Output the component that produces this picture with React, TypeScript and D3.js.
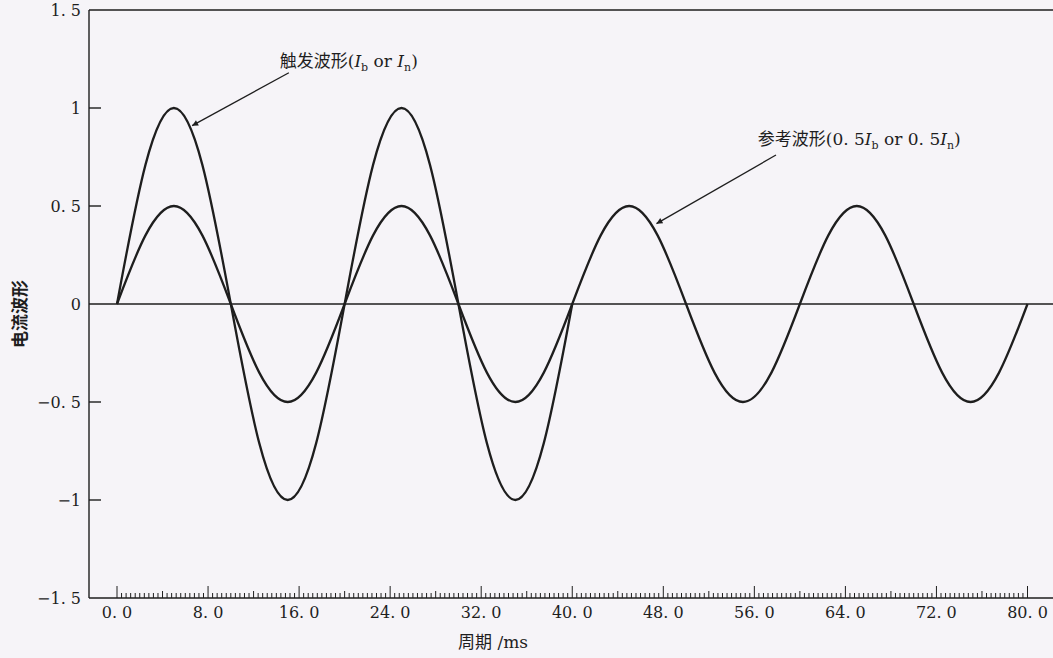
import * as d3 from "d3";
import { useEffect, useRef } from "react";

// time axis (ms), sampled every 2.5 ms
const timeMs = [
  0, 2.5, 5, 7.5, 10, 12.5, 15, 17.5, 20, 22.5, 25, 27.5, 30, 32.5, 35, 37.5, 40,
  42.5, 45, 47.5, 50, 52.5, 55, 57.5, 60, 62.5, 65, 67.5, 70, 72.5, 75, 77.5, 80,
];

// trigger waveform (Ib or In), 0..40 ms
const triggerWave = [
  0, 0.71, 1, 0.71, 0, -0.71, -1, -0.71, 0, 0.71, 1, 0.71, 0, -0.71, -1, -0.71, 0,
];

// reference waveform (0.5Ib or 0.5In), 0..80 ms
const referenceWave = [
  0, 0.35, 0.5, 0.35, 0, -0.35, -0.5, -0.35, 0, 0.35, 0.5, 0.35, 0, -0.35, -0.5, -0.35, 0,
  0.35, 0.5, 0.35, 0, -0.35, -0.5, -0.35, 0, 0.35, 0.5, 0.35, 0, -0.35, -0.5, -0.35, 0,
];

const xTicks = [0, 8, 16, 24, 32, 40, 48, 56, 64, 72, 80];
const xTickLabels = ["0. 0", "8. 0", "16. 0", "24. 0", "32. 0", "40. 0", "48. 0", "56. 0", "64. 0", "72. 0", "80. 0"];
const yTicks = [1.5, 1, 0.5, 0, -0.5, -1, -1.5];
const yTickLabels = ["1. 5", "1", "0. 5", "0", "\u22120. 5", "\u22121", "\u22121. 5"];

const W = 1053;
const H = 658;
const serif = "'DejaVu Serif', 'Noto Sans CJK SC', serif";
const ink = "#1e1e1e";

function App() {
  const ref = useRef<SVGSVGElement>(null);

  useEffect(() => {
    const svg = d3.select(ref.current);
    svg.selectAll("*").remove();

    const x = d3.scaleLinear().domain([0, 80]).range([117, 1027.5]);
    const y = d3.scaleLinear().domain([-1.5, 1.5]).range([598, 10]);
    const axisLeft = 89;

    svg.append("rect").attr("width", W).attr("height", H).attr("fill", "#f6f4f8");

    const defs = svg.append("defs");
    defs
      .append("marker")
      .attr("id", "arrow")
      .attr("viewBox", "0 0 10 10")
      .attr("refX", 10)
      .attr("refY", 5)
      .attr("markerWidth", 13)
      .attr("markerHeight", 6)
      .attr("markerUnits", "userSpaceOnUse")
      .attr("orient", "auto")
      .append("path")
      .attr("d", "M0,0 L10,5 L0,10 Z")
      .attr("fill", ink);

    // frame: left axis, top line, zero line, bottom axis
    const g = svg.append("g").attr("stroke", ink).attr("stroke-width", 1.4);
    g.append("line").attr("x1", axisLeft).attr("x2", axisLeft).attr("y1", y(1.5)).attr("y2", y(-1.5));
    g.append("line").attr("x1", axisLeft).attr("x2", W).attr("y1", y(1.5)).attr("y2", y(1.5));
    g.append("line").attr("x1", axisLeft).attr("x2", W).attr("y1", y(0)).attr("y2", y(0));
    g.append("line").attr("x1", axisLeft).attr("x2", W).attr("y1", y(-1.5)).attr("y2", y(-1.5));

    // y ticks (inward)
    g.selectAll(".ytick")
      .data(yTicks.filter((d) => Math.abs(d) < 1.5 && d !== 0))
      .join("line")
      .attr("x1", axisLeft)
      .attr("x2", axisLeft + 12)
      .attr("y1", (d) => y(d))
      .attr("y2", (d) => y(d));

    svg
      .append("g")
      .attr("font-family", serif)
      .attr("font-size", 16)
      .attr("fill", ink)
      .selectAll("text")
      .data(yTicks)
      .join("text")
      .attr("x", 81)
      .attr("y", (d) => y(d))
      .attr("dy", "0.35em")
      .attr("text-anchor", "end")
      .text((_, i) => yTickLabels[i]);

    // x minor ticks every 0.4 ms, major every 8 ms
    const minor = d3.range(0, 201).map((i) => i * 0.4);
    g.selectAll(".xminor")
      .data(minor)
      .join("line")
      .attr("stroke-width", 1)
      .attr("x1", (d) => x(d))
      .attr("x2", (d) => x(d))
      .attr("y1", y(-1.5))
      .attr("y2", (_, i) => y(-1.5) - (i % 20 === 0 ? 12 : i % 10 === 0 ? 7 : 5));

    svg
      .append("g")
      .attr("font-family", serif)
      .attr("font-size", 16)
      .attr("fill", ink)
      .selectAll("text")
      .data(xTicks)
      .join("text")
      .attr("x", (d) => x(d))
      .attr("y", 618)
      .attr("text-anchor", "middle")
      .text((_, i) => xTickLabels[i]);

    // axis titles
    svg
      .append("text")
      .attr("x", 458)
      .attr("y", 648)
      .attr("font-family", serif)
      .attr("font-size", 17)
      .attr("fill", ink)
      .text("周期 /ms");

    svg
      .append("text")
      .attr("transform", `translate(26, 314) rotate(-90)`)
      .attr("text-anchor", "middle")
      .attr("font-family", serif)
      .attr("font-size", 17)
      .attr("font-weight", 600)
      .attr("fill", ink)
      .text("电流波形");

    // waveforms
    const line = d3
      .line<number>()
      .x((_, i) => x(timeMs[i]))
      .y((d) => y(d))
      .curve(d3.curveNatural);

    svg
      .append("path")
      .attr("d", line(referenceWave))
      .attr("fill", "none")
      .attr("stroke", ink)
      .attr("stroke-width", 2.3);

    svg
      .append("path")
      .attr("d", line(triggerWave))
      .attr("fill", "none")
      .attr("stroke", ink)
      .attr("stroke-width", 2.3);

    // annotations: text position, arrow tail and tip in data units
    const notes = [
      { pre: "触发波形(", k1: "", k2: "", tx: 14.3, ty: 1.21, ax: 15.1, ay: 1.18, bx: 6.6, by: 0.91 },
      { pre: "参考波形(", k1: "0. 5", k2: "0. 5", tx: 56.3, ty: 0.81, ax: 57.9, ay: 0.76, bx: 47.4, by: 0.41 },
    ];

    notes.forEach((n) => {
      svg
        .append("line")
        .attr("x1", x(n.ax))
        .attr("y1", y(n.ay))
        .attr("x2", x(n.bx))
        .attr("y2", y(n.by))
        .attr("stroke", ink)
        .attr("stroke-width", 1.3)
        .attr("marker-end", "url(#arrow)");

      const t = svg
        .append("text")
        .attr("x", x(n.tx))
        .attr("y", y(n.ty))
        .attr("font-family", serif)
        .attr("font-size", 17)
        .attr("fill", ink);
      t.append("tspan").text(n.pre + n.k1);
      t.append("tspan").attr("font-style", "italic").text("I");
      t.append("tspan").attr("dy", 4).attr("font-size", 11).text("b");
      t.append("tspan").attr("dy", -4).text(" or " + n.k2);
      t.append("tspan").attr("font-style", "italic").text("I");
      t.append("tspan").attr("dy", 4).attr("font-size", 11).text("n");
      t.append("tspan").attr("dy", -4).text(")");
    });

    return () => {
      svg.selectAll("*").remove();
    };
  }, []);

  return (
    <svg
      ref={ref}
      width={W}
      height={H}
      style={{ position: "absolute", left: 0, top: 0, display: "block" }}
    />
  );
}

export default App;
